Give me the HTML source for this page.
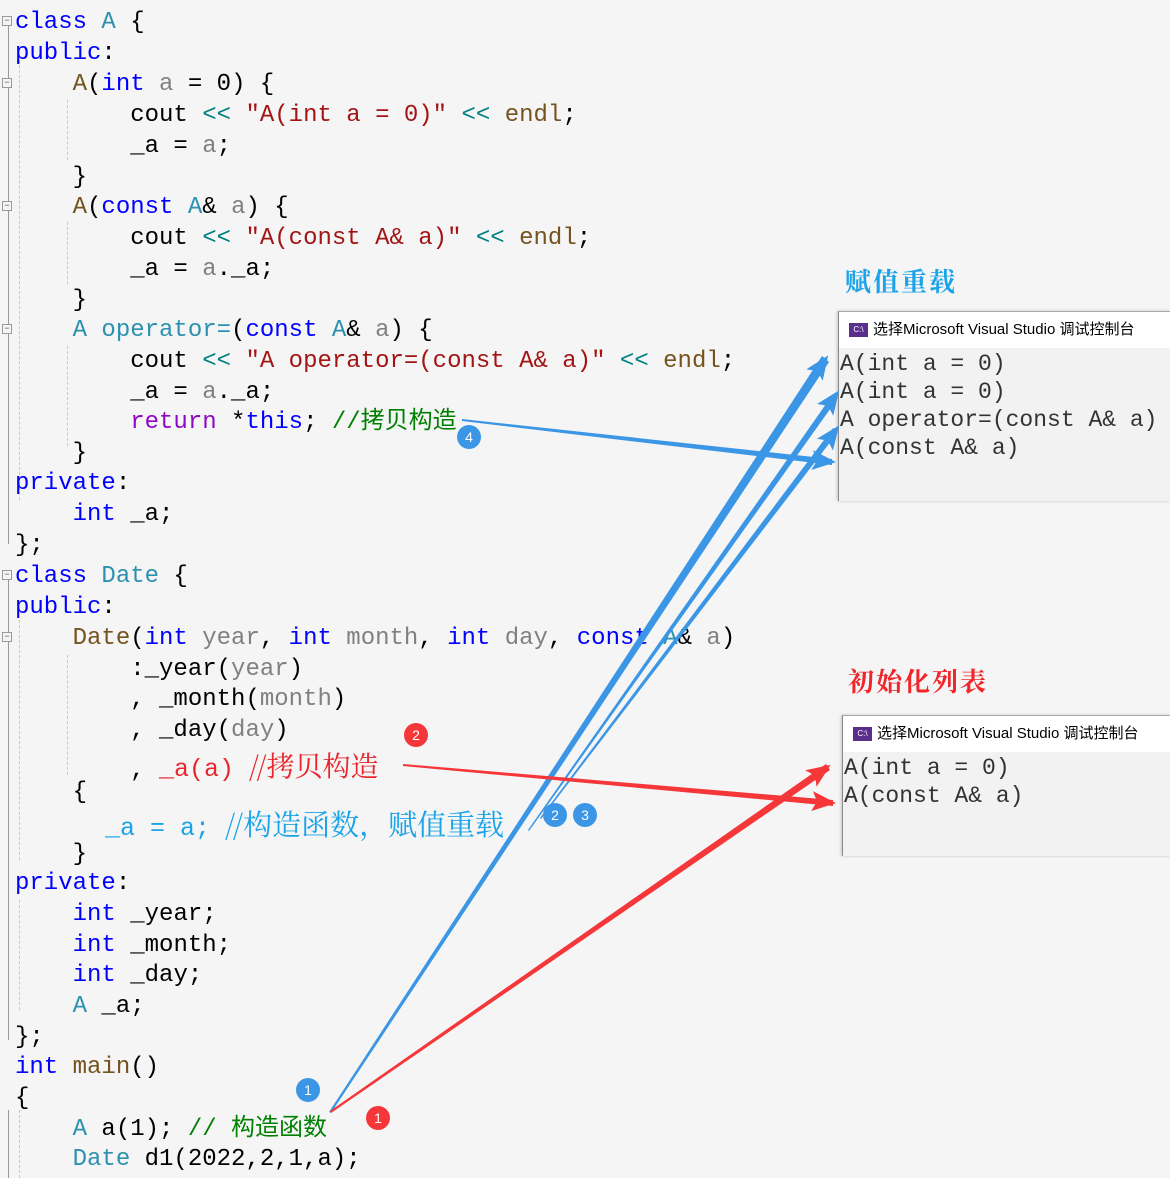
<!DOCTYPE html>
<html><head><meta charset="utf-8"><style>
html,body{margin:0;padding:0}
body{width:1170px;height:1178px;background:#f5f5f5;position:relative;overflow:hidden;font-family:"Liberation Mono","Noto Sans CJK SC",monospace;}
.l{position:absolute;left:15px;font-size:24px;line-height:30px;white-space:pre;color:#000;margin-top:3px}
.k{color:#0000ff}.t{color:#2b91af}.f{color:#74531f}.p{color:#808080}.s{color:#a31515}.c{color:#008000}.r{color:#8f08c4}.o{color:#008080}
.cj{font-family:"Noto Serif CJK SC","Noto Sans CJK SC",serif;font-size:28px;}
.gl{position:absolute;width:1px;background:#999}
.dg{position:absolute;width:0;border-left:1px dashed #c8c8c8}
.fb{position:absolute;left:2px;width:8px;height:8px;border:1px solid #999;background:#f5f5f5;font-size:9px;line-height:8px;text-align:center;color:#555}
.panel{position:absolute;background:#f2f2f2;border-left:1px solid #888;border-top:1px solid #aaa;box-shadow:-1px 0 3px rgba(0,0,0,.2)}
.tb{background:#fff;height:36px;font-family:"Liberation Sans","Noto Sans CJK SC",sans-serif;font-size:15px;line-height:36px;padding-left:34px;position:relative;color:#000}
.ic{position:absolute;left:10px;top:11px;width:19px;height:14px;background:#5a2f8c;color:#fff;font-size:8px;line-height:14px;text-align:center}
.ct{font-family:"Liberation Mono",monospace;font-size:23px;line-height:28px;white-space:pre;color:#333;padding-left:1px;padding-top:2px}
.ttl{position:absolute;font-family:"Noto Serif CJK SC",serif;font-size:26px;font-weight:bold;letter-spacing:2px}
.b{position:absolute;width:24px;height:24px;border-radius:50%;color:#fff;font-family:"Liberation Sans",sans-serif;font-size:14px;line-height:24px;text-align:center}
</style></head><body>
<div class="gl" style="left:8px;top:24px;height:520px"></div>
<div class="gl" style="left:8px;top:580px;height:460px"></div>
<div class="gl" style="left:8px;top:1110px;height:68px"></div>
<div class="dg" style="left:19px;top:60px;height:440px"></div>
<div class="dg" style="left:19px;top:620px;height:240px"></div>
<div class="dg" style="left:19px;top:900px;height:110px"></div>
<div class="dg" style="left:19px;top:1110px;height:68px"></div>
<div class="dg" style="left:67px;top:100px;height:60px"></div>
<div class="dg" style="left:67px;top:222px;height:62px"></div>
<div class="dg" style="left:67px;top:346px;height:100px"></div>
<div class="dg" style="left:67px;top:655px;height:120px"></div>
<div class="fb" style="top:16px">−</div>
<div class="fb" style="top:78px">−</div>
<div class="fb" style="top:201px">−</div>
<div class="fb" style="top:324px">−</div>
<div class="fb" style="top:570px">−</div>
<div class="fb" style="top:632px">−</div>

<div class="l" style="top:5px"><span class="k">class</span> <span class="t">A</span> {</div>
<div class="l" style="top:36px"><span class="k">public</span>:</div>
<div class="l" style="top:67px">    <span class="f">A</span>(<span class="k">int</span> <span class="p">a</span> = 0) {</div>
<div class="l" style="top:98px">        cout <span class="o">&lt;&lt;</span> <span class="s">"A(int a = 0)"</span> <span class="o">&lt;&lt;</span> <span class="f">endl</span>;</div>
<div class="l" style="top:129px">        _a = <span class="p">a</span>;</div>
<div class="l" style="top:160px">    }</div>
<div class="l" style="top:190px">    <span class="f">A</span>(<span class="k">const</span> <span class="t">A</span>&amp; <span class="p">a</span>) {</div>
<div class="l" style="top:221px">        cout <span class="o">&lt;&lt;</span> <span class="s">"A(const A&amp; a)"</span> <span class="o">&lt;&lt;</span> <span class="f">endl</span>;</div>
<div class="l" style="top:252px">        _a = <span class="p">a</span>._a;</div>
<div class="l" style="top:283px">    }</div>
<div class="l" style="top:313px">    <span class="t">A</span> <span class="t">operator=</span>(<span class="k">const</span> <span class="t">A</span>&amp; <span class="p">a</span>) {</div>
<div class="l" style="top:344px">        cout <span class="o">&lt;&lt;</span> <span class="s">"A operator=(const A&amp; a)"</span> <span class="o">&lt;&lt;</span> <span class="f">endl</span>;</div>
<div class="l" style="top:375px">        _a = <span class="p">a</span>._a;</div>
<div class="l" style="top:405px">        <span class="r">return</span> *<span class="k">this</span>; <span class="c">//拷贝构造</span></div>
<div class="l" style="top:436px">    }</div>
<div class="l" style="top:466px"><span class="k">private</span>:</div>
<div class="l" style="top:497px">    <span class="k">int</span> _a;</div>
<div class="l" style="top:528px">};</div>
<div class="l" style="top:559px"><span class="k">class</span> <span class="t">Date</span> {</div>
<div class="l" style="top:590px"><span class="k">public</span>:</div>
<div class="l" style="top:621px">    <span class="f">Date</span>(<span class="k">int</span> <span class="p">year</span>, <span class="k">int</span> <span class="p">month</span>, <span class="k">int</span> <span class="p">day</span>, <span class="k">const</span> <span class="t">A</span>&amp; <span class="p">a</span>)</div>
<div class="l" style="top:652px">        :_year(<span class="p">year</span>)</div>
<div class="l" style="top:682px">        , _month(<span class="p">month</span>)</div>
<div class="l" style="top:713px">        , _day(<span class="p">day</span>)</div>
<div class="l" style="top:747px">        , <span style="color:#e8262b;font-size:25px">_a(a) <span class="cj">//拷贝构造</span></span></div>
<div class="l" style="top:775px">    {</div>
<div class="l" style="top:806px;color:#1aa3e8;font-size:25px">      _a = a; <span class="cj" style="font-size:29px">//构造函数，赋值重载</span></div>
<div class="l" style="top:837px">    }</div>
<div class="l" style="top:866px"><span class="k">private</span>:</div>
<div class="l" style="top:897px">    <span class="k">int</span> _year;</div>
<div class="l" style="top:928px">    <span class="k">int</span> _month;</div>
<div class="l" style="top:958px">    <span class="k">int</span> _day;</div>
<div class="l" style="top:989px">    <span class="t">A</span> _a;</div>
<div class="l" style="top:1020px">};</div>
<div class="l" style="top:1050px"><span class="k">int</span> <span class="f">main</span>()</div>
<div class="l" style="top:1081px">{</div>
<div class="l" style="top:1112px">    <span class="t">A</span> a(1); <span class="c">// 构造函数</span></div>
<div class="l" style="top:1142px">    <span class="t">Date</span> d1(2022,2,1,a);</div>

<div class="ttl" style="left:845px;top:262px;color:#1aa3e8">赋值重载</div>
<div class="ttl" style="left:848px;top:662px;color:#f0262b">初始化列表</div>

<div class="panel" style="left:838px;top:311px;width:332px;height:189px">
<div class="tb"><div class="ic">C:\</div>选择Microsoft Visual Studio 调试控制台</div>
<div class="ct">A(int a = 0)
A(int a = 0)
A operator=(const A&amp; a)
A(const A&amp; a)</div></div>
<div class="panel" style="left:842px;top:715px;width:328px;height:140px">
<div class="tb"><div class="ic">C:\</div>选择Microsoft Visual Studio 调试控制台</div>
<div class="ct">A(int a = 0)
A(const A&amp; a)</div></div>

<svg width="1170" height="1178" style="position:absolute;left:0;top:0">
<defs>
<marker id="hb" markerUnits="userSpaceOnUse" markerWidth="26" markerHeight="24" refX="22" refY="12" orient="auto"><path d="M0,2 L24,12 L0,22 L5,12 Z" fill="#3b96e6"/></marker>
<marker id="hr" markerUnits="userSpaceOnUse" markerWidth="26" markerHeight="24" refX="22" refY="12" orient="auto"><path d="M0,2 L24,12 L0,22 L5,12 Z" fill="#f5373a"/></marker>
</defs>
<g fill="none" stroke-linecap="round">
<polygon points="329,1112 331,1113 829,362 822,356" fill="#3b96e6"/>
<line x1="800" y1="396" x2="827" y2="357" stroke="#3b96e6" stroke-width="1" marker-end="url(#hb)"/>
<polygon points="528,830 529,831 838,398 833,394" fill="#3b96e6"/>
<line x1="812" y1="428" x2="838" y2="392" stroke="#3b96e6" stroke-width="1" marker-end="url(#hb)"/>
<polygon points="540,818 541,819 838,432 833,428" fill="#3b96e6"/>
<line x1="812" y1="462" x2="838" y2="427" stroke="#3b96e6" stroke-width="1" marker-end="url(#hb)"/>
<polygon points="462,419 462,421 832,465 832,459" fill="#3b96e6"/>
<line x1="800" y1="459" x2="834" y2="462" stroke="#3b96e6" stroke-width="1" marker-end="url(#hb)"/>
<polygon points="403,764 403,766 833,806 833,800" fill="#f5373a"/>
<line x1="800" y1="800" x2="834" y2="803" stroke="#f5373a" stroke-width="1" marker-end="url(#hr)"/>
<polygon points="330,1111 331,1113 830,770 826,764" fill="#f5373a"/>
<line x1="800" y1="786" x2="829" y2="766" stroke="#f5373a" stroke-width="1" marker-end="url(#hr)"/>
</g>
</svg>

<div class="b" style="left:457px;top:425px;background:#3b96e6">4</div>
<div class="b" style="left:296px;top:1078px;background:#3b96e6">1</div>
<div class="b" style="left:543px;top:803px;background:#3b96e6">2</div>
<div class="b" style="left:573px;top:803px;background:#3b96e6">3</div>
<div class="b" style="left:404px;top:723px;background:#f5373a">2</div>
<div class="b" style="left:366px;top:1106px;background:#f5373a">1</div>
</body></html>
